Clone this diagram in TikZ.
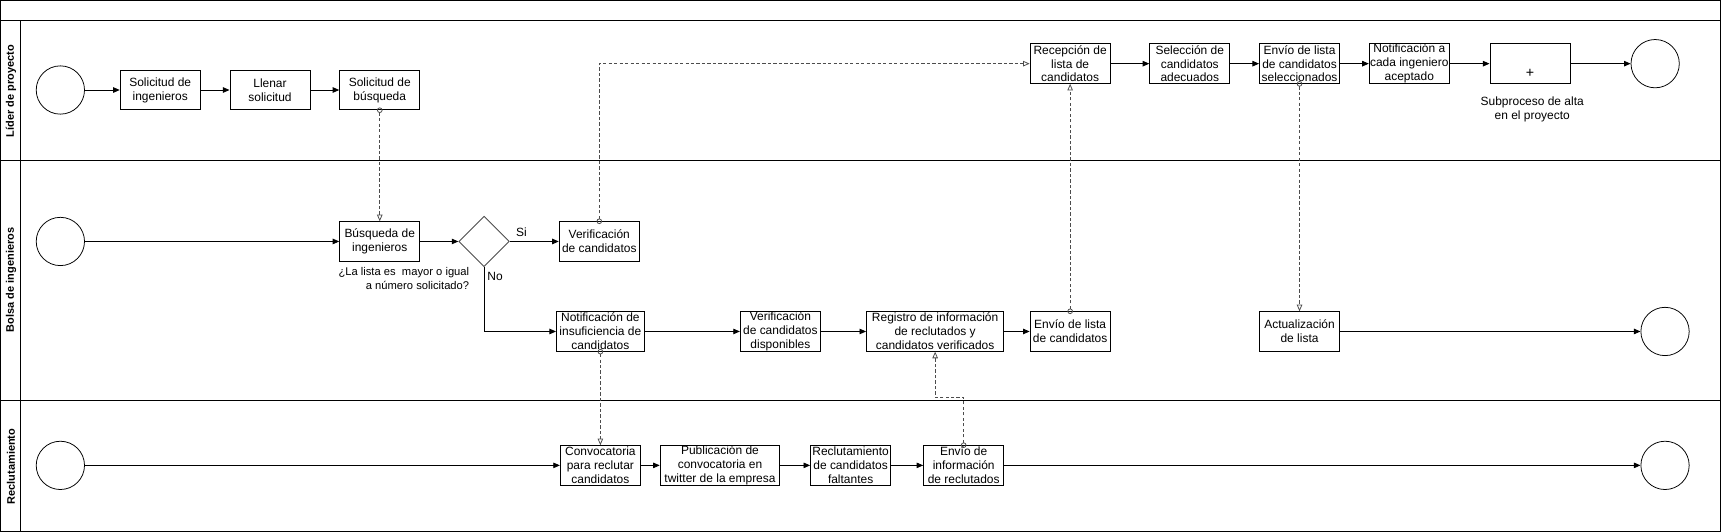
\documentclass[tikz,border=0pt]{standalone}
\usepackage{fontspec}
\setmainfont{Liberation Sans}
\usetikzlibrary{arrows.meta,shapes.geometric}

\begin{document}
\begin{tikzpicture}
  [x=1pt,y=-1pt,
    every node/.style={font=\fontsize{10.9}{12.6}\selectfont},
    tarea/.style={draw,rectangle,line width=0.8pt,minimum width=73pt,minimum height=36pt,inner sep=0pt,align=center},
    evento/.style={draw,circle,line width=0.7pt,minimum size=44pt,inner sep=0pt},
    compuerta/.style={draw=black!70,line width=0.8pt,diamond,minimum size=46pt,inner sep=0pt},
    carril/.style={rotate=90,font=\fontsize{10}{12}\selectfont\bfseries},
    flujo/.style={-{Triangle[length=6pt,width=5pt]},line width=0.8pt},
    mensaje/.style={draw=black!70,line width=0.7pt,dash pattern=on 3pt off 2pt,
      {Circle[open,length=5pt,width=5pt]}-{Triangle[open,length=6pt,width=5pt]},shorten <=-2.5pt},
    nota/.style={align=center},
  ]
  \useasboundingbox (0,0) rectangle (1568,484.7);
  \draw[line width=0.8pt] (0.5,0.5) rectangle (1567.5,484.2);
  \draw[line width=0.8pt] (0,19) -- (1568,19) (19,19) -- (19,484)
    (0,146) -- (1568,146) (0,365) -- (1568,365);

  \node[carril] (lider) at (10,83) {Líder de proyecto};
  \node[carril] (bolsa) at (10,255) {Bolsa de ingenieros};
  \node[carril] (reclu) at (10,425) {Reclutamiento};

  \node[evento] (ini1) at (55,82) {};
  \node[tarea] (solic) at (146,82) {Solicitud de\\ingenieros};
  \node[tarea] (llenar) at (246,82) {Llenar\\solicitud};
  \node[tarea] (busq) at (346,82) {Solicitud de\\búsqueda};
  \node[tarea] (recep) at (975,58) {Recepción de\\lista de\\candidatos};
  \node[tarea] (selec) at (1084,58) {Selección de\\candidatos\\adecuados};
  \node[tarea] (envsel) at (1184,58) {Envío de lista\\de candidatos\\seleccionados};
  \node[tarea] (notif) at (1284,58) {Notificación a\\cada ingeniero\\aceptado};
  \node[tarea] (alta) at (1394,58) {};
  \node[font=\fontsize{13}{14}\selectfont] (mas) at (1394,67) {+};
  \node[nota] (altatxt) at (1396,100) {Subproceso de alta\\en el proyecto};
  \node[evento] (fin1) at (1508,58) {};

  \node[evento] (ini2) at (55,220) {};
  \node[tarea] (buscar) at (346,220) {Búsqueda de\\ingenieros};
  \node[compuerta] (gw) at (441,220) {};
  \node[tarea] (verif) at (546,220) {Verificación\\de candidatos};
  \node[tarea,minimum width=80pt] (insuf) at (547,302) {Notificación de\\insuficiencia de\\candidatos};
  \node[tarea] (disp) at (711,302) {Verificación\\de candidatos\\disponibles};
  \node[tarea,minimum width=125pt] (regis) at (852,302) {Registro de información\\de reclutados y\\candidatos verificados};
  \node[tarea] (envlis) at (975,302) {Envío de lista\\de candidatos};
  \node[tarea] (actu) at (1184,302) {Actualización\\de lista};
  \node[evento] (fin2) at (1517,302) {};
  \node[align=right,anchor=north east,font=\fontsize{10.2}{12.8}\selectfont] (preg) at (431,240) {¿La lista es~ mayor o igual\\a número solicitado?};
  \node (si) at (475,212) {Si};
  \node (no) at (451,252) {No};

  \node[evento] (ini3) at (55,424) {};
  \node[tarea] (convo) at (547,424) {Convocatoria\\para reclutar\\candidatos};
  \node[tarea,minimum width=109pt] (publi) at (656,424) {Publicación de\\convocatoria en\\twitter de la empresa};
  \node[tarea] (reclut) at (775,424) {Reclutamiento\\de candidatos\\faltantes};
  \node[tarea] (envinf) at (878,424) {Envío de\\información\\de reclutados};
  \node[evento] (fin3) at (1517,424) {};
  \coordinate (codo) at (878,362);

  \draw[flujo] (ini1) -- (solic);
  \draw[flujo] (solic) -- (llenar);
  \draw[flujo] (llenar) -- (busq);
  \draw[flujo] (recep) -- (selec);
  \draw[flujo] (selec) -- (envsel);
  \draw[flujo] (envsel) -- (notif);
  \draw[flujo] (notif) -- (alta);
  \draw[flujo] (alta) -- (fin1);
  \draw[flujo] (ini2) -- (buscar);
  \draw[flujo] (buscar) -- (gw);
  \draw[flujo] (gw) -- (verif);
  \draw[flujo] (gw.south) |- (insuf);
  \draw[flujo] (insuf) -- (disp);
  \draw[flujo] (disp) -- (regis);
  \draw[flujo] (regis) -- (envlis);
  \draw[flujo] (actu) -- (fin2);
  \draw[flujo] (ini3) -- (convo);
  \draw[flujo] (convo) -- (publi);
  \draw[flujo] (publi) -- (reclut);
  \draw[flujo] (reclut) -- (envinf);
  \draw[flujo] (envinf) -- (fin3);

  \draw[mensaje] (busq) -- (buscar);
  \draw[mensaje] (verif.north) |- (recep.west);
  \draw[mensaje] (envlis) -- (recep);
  \draw[mensaje] (envsel) -- (actu);
  \draw[mensaje] (insuf) -- (convo);
  \draw[mensaje] (envinf.north) -- (codo) -| (regis.south);
\end{tikzpicture}
\end{document}
